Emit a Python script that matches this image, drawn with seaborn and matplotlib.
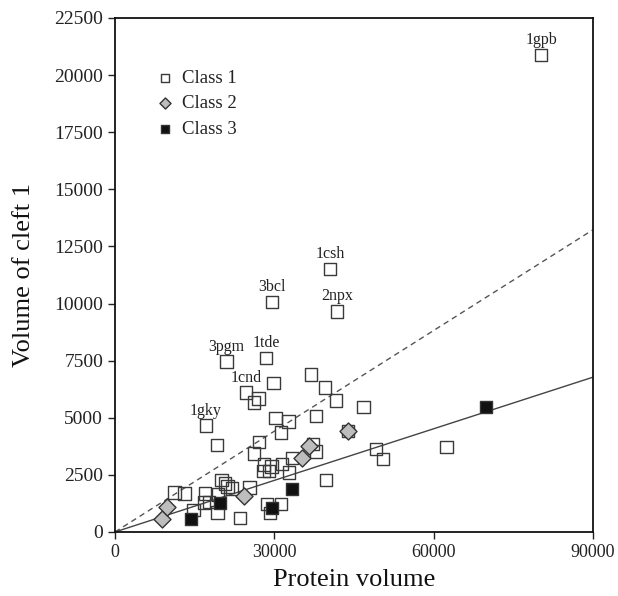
import matplotlib
matplotlib.use("Agg")
import matplotlib.pyplot as plt
import seaborn as sns
import pandas as pd
import numpy as np

# ---- data ----
class1_x = [80240, 40530, 29590, 41780, 21000, 28470, 29830, 36880, 39580, 24700,
            27010, 26200, 41650, 46800, 17090, 30200, 32700, 31290, 37890, 19160,
            27100, 26200, 37260, 37890, 33290, 28080, 29470, 27950, 28960, 31400,
            32790, 39770, 49190, 50440, 62390, 43860, 20100, 20730, 21170, 22000,
            25320, 11180, 13130, 16960, 19350, 16770, 17700, 19290, 14760, 23560,
            28590, 31230, 29210]
class1_y = [20880, 11510, 10070, 9660, 7455, 7620, 6510, 6900, 6330, 6100,
            5850, 5660, 5760, 5470, 4655, 5000, 4830, 4360, 5090, 3810,
            3950, 3440, 3840, 3515, 3250, 2960, 2860, 2680, 2680, 2975,
            2600, 2275, 3630, 3195, 3730, 4420, 2275, 2130, 1985, 1910,
            1955, 1720, 1690, 1690, 1650, 1285, 1325, 845, 960, 600,
            1225, 1225, 820]
class2_x = [8920, 9860, 24310, 35310, 36570, 43860]
class2_y = [570, 1080, 1575, 3225, 3780, 4420]
class3_x = [14320, 19790, 29650, 33290, 69800]
class3_y = [580, 1255, 1065, 1870, 5455]

label_names = ["1gpb", "1csh", "3bcl", "2npx", "3pgm", "1tde", "1cnd", "1gky"]
label_idx = [0, 1, 2, 3, 4, 5, 9, 14]

dashed_slope = 0.1470
solid_slope = 0.0753
line_x = [0, 90000]

x_ticks = [0, 30000, 60000, 90000]
y_ticks = list(range(0, 22501, 2500))

# ---- plotting ----
sns.set_theme(style="white")
plt.rcParams["font.family"] = ["Liberation Serif", "DejaVu Serif"]

fig = plt.figure(figsize=(6.18, 5.96), dpi=100)
ax = fig.add_axes([0.186, 0.1074, 0.7735, 0.8624])

df1 = pd.DataFrame({"x": class1_x, "y": class1_y})
df2 = pd.DataFrame({"x": class2_x, "y": class2_y})
df3 = pd.DataFrame({"x": class3_x, "y": class3_y})

lines = pd.DataFrame({"x": line_x,
                      "dash": [dashed_slope * v for v in line_x],
                      "solid": [solid_slope * v for v in line_x]})
sns.lineplot(data=lines, x="x", y="dash", ax=ax, color="#555555", lw=1.0,
             linestyle=(0, (4, 3)), zorder=1)
sns.lineplot(data=lines, x="x", y="solid", ax=ax, color="#444444", lw=1.0, zorder=1)

sns.scatterplot(data=df1, x="x", y="y", ax=ax, marker="s", s=80,
                color="white", edgecolor="#3a3a3a", linewidth=1.0,
                label="Class 1", zorder=3)
ax.collections[-1].set_facecolor("none")
sns.scatterplot(data=df2, x="x", y="y", ax=ax, marker="D", s=75,
                color="#bdbdbd", edgecolor="#333333", linewidth=1.0,
                label="Class 2", zorder=4)
sns.scatterplot(data=df3, x="x", y="y", ax=ax, marker="s", s=75,
                color="#111111", edgecolor="#333333", linewidth=1.0,
                label="Class 3", zorder=4)

for name, i in zip(label_names, label_idx):
    ax.annotate(name, (class1_x[i], class1_y[i]), xytext=(0, 5),
                textcoords="offset points", ha="center", va="bottom",
                fontsize=11.5, color="#222222")

ax.set_xlim(0, 90000)
ax.set_ylim(0, 22500)
ax.set_xticks(x_ticks)
ax.set_yticks(y_ticks)
ax.tick_params(axis="both", which="both", direction="out", length=5, width=1,
               colors="#222222", left=True, bottom=True,
               top=False, right=False)
ax.tick_params(axis="x", labelsize=13)
ax.tick_params(axis="y", labelsize=14)
for sp in ax.spines.values():
    sp.set_color("#111111")
    sp.set_linewidth(1.3)

ax.set_xlabel("Protein volume", fontsize=19, color="#111111", labelpad=6)
ax.set_ylabel("Volume of cleft 1", fontsize=19, color="#111111", labelpad=14)

leg = ax.legend(loc="upper left", bbox_to_anchor=(0.057, 0.925), frameon=False,
                fontsize=13.5, handletextpad=0.4, handlelength=1.0,
                labelspacing=0.45, markerscale=0.65, borderaxespad=0.3)
for t in leg.get_texts():
    t.set_color("#222222")

fig.savefig("out.png", dpi=100, facecolor="white")
